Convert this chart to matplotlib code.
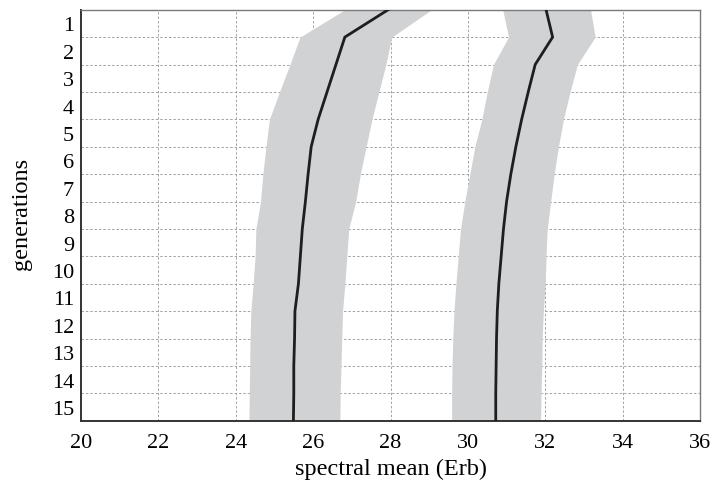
import matplotlib
matplotlib.use("Agg")
import matplotlib.pyplot as plt
import numpy as np

# generation boundaries 0..15 (labels 1..15 sit between them)
gen = np.arange(16)

low_mean = [27.94, 26.82, 26.59, 26.36, 26.13, 25.95, 25.87, 25.80,
            25.72, 25.67, 25.62, 25.53, 25.52, 25.50, 25.50, 25.49]
low_lo = [26.82, 25.66, 25.40, 25.13, 24.87, 24.78, 24.70, 24.64,
          24.52, 24.50, 24.45, 24.39, 24.37, 24.36, 24.35, 24.34]
low_hi = [29.06, 28.03, 27.88, 27.70, 27.52, 27.37, 27.22, 27.10,
          26.92, 26.87, 26.82, 26.76, 26.74, 26.72, 26.70, 26.69]

high_mean = [32.02, 32.19, 31.74, 31.56, 31.39, 31.24, 31.11, 31.00,
             30.92, 30.86, 30.80, 30.76, 30.74, 30.73, 30.72, 30.72]
high_lo = [30.90, 31.05, 30.66, 30.50, 30.36, 30.18, 30.05, 29.92,
           29.81, 29.75, 29.69, 29.64, 29.61, 29.59, 29.58, 29.58]
high_hi = [33.17, 33.29, 32.83, 32.64, 32.47, 32.34, 32.23, 32.14,
           32.05, 32.02, 32.00, 31.95, 31.92, 31.91, 31.89, 31.88]

gen_labels = [str(i) for i in range(1, 16)]
x_ticks = list(range(20, 37, 2))

plt.rcParams['font.family'] = ['Liberation Serif', 'DejaVu Serif']

fig = plt.figure(figsize=(7.13, 4.89), dpi=100)
ax = fig.add_axes([0.1136, 0.1376, 0.8682, 0.8405])

band = "#d1d2d4"
for lo, hi, m in [(low_lo, low_hi, low_mean), (high_lo, high_hi, high_mean)]:
    ax.fill_betweenx(gen, lo, hi, color=band, lw=0, zorder=2)
    ax.plot(m, gen, color="#1e1e1e", lw=2.0, zorder=3, solid_joinstyle="miter")

ax.set_xlim(20, 36)
ax.set_ylim(15, 0)

ax.set_xticks(x_ticks)
ax.set_yticks(np.arange(15) + 0.5)
ax.set_yticklabels(gen_labels)
ax.set_yticks(np.arange(1, 15), minor=True)

ax.tick_params(axis="both", which="both", length=0, labelsize=16)
ax.tick_params(axis="y", pad=5)
ax.tick_params(axis="x", pad=9)

ax.grid(True, axis="x", which="major", ls=(0, (2.5, 2)), lw=0.7, color="#a3a3a3", zorder=1)
ax.grid(True, axis="y", which="minor", ls=(0, (2.5, 2)), lw=0.7, color="#a3a3a3", zorder=1)
ax.set_axisbelow(True)

for s in ["left", "bottom"]:
    ax.spines[s].set_color("#333333")
    ax.spines[s].set_linewidth(1.4)
for s in ["top", "right"]:
    ax.spines[s].set_color("#7a7a7a")
    ax.spines[s].set_linewidth(1.0)

ax.set_xlabel("spectral mean (Erb)", fontsize=17.5)
ax.set_ylabel("generations", fontsize=17.5)
ax.xaxis.set_label_coords(0.5, -0.09)
ax.yaxis.set_label_coords(-0.079, 0.505)

fig.savefig("out.png", dpi=100)
